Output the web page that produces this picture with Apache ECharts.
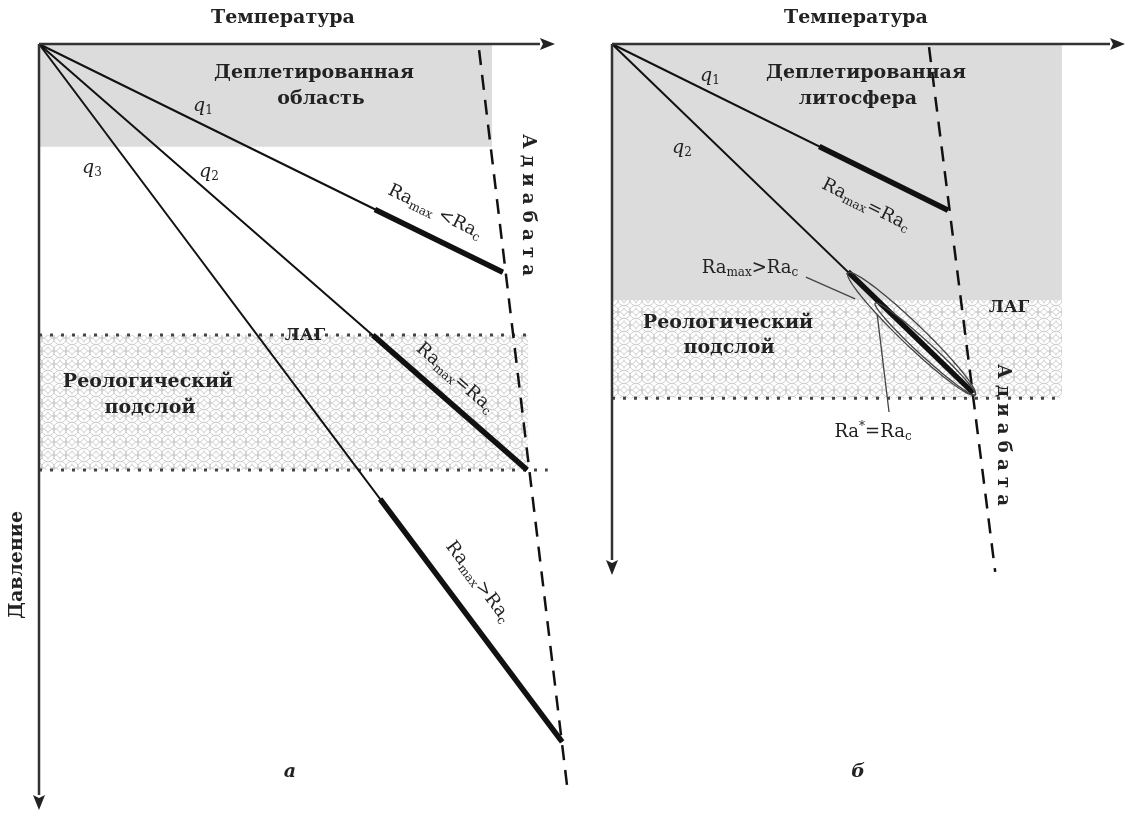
<!DOCTYPE html>
<html>
<head>
<meta charset="utf-8">
<script src="https://cdn.jsdelivr.net/npm/echarts@6/dist/echarts.min.js"></script>
<style>
  html, body { margin: 0; background: #fff; }
  #chart { width: 1127px; height: 818px; }
</style>
</head>
<body>
<div id="chart"></div>
<script>
// units: temperature 0..100 along the arrow, pressure 0..100 down the arrow

// panel a
var geothermEndA = [[89.9, 29.8], [94.6, 55.6], [101.4, 91.1]];   // q1, q2, q3 meet the adiabat
var thickStartA = [[65.1, 21.6], [64.7, 38.0], [66.1, 59.4]];
var adiabatA = [[85.3, 0.8], [102.5, 97.7]];
var depletedA = [0, 0, 87.8, 13.4];
var rheoA = [0, 38.0, 94.8, 55.6];
var lagLineA = [[0, 38.0], [94.4, 38.0]];
var rheoBottomA = [[0, 55.6], [98.6, 55.6]];

// panel b
var geothermEndB = [[65.5, 31.3], [70.4, 65.7]];                  // q1, q2
var thickStartB = [[40.4, 19.3], [46.0, 42.9]];
var adiabatB = [[61.8, 0.6], [74.7, 99.4]];
var depletedB = [0, 0, 87.7, 48.2];
var rheoB = [0, 48.2, 87.7, 66.7];
var rheoBottomB = [[0, 66.7], [87.7, 66.7]];
var envelopesB = [[46.0, 43.1, 70.8, 66.1], [51.3, 48.8, 70.8, 66.1]];
var leaderMaxB = [[37.8, 43.9], [47.4, 48.0]];
var leaderStarB = [[54.0, 69.3], [51.7, 51.0]];

// the two axis arrows of each panel: temperature, pressure
var axesArrows = [[0, 0, 100, 0], [0, 0, 0, 100]];

var chart = echarts.init(document.getElementById('chart'));

function makeHatch() {
  var c = document.createElement('canvas');
  c.width = 12;
  c.height = 13;
  var ctx = c.getContext('2d');
  ctx.fillStyle = '#fff';
  ctx.fillRect(0, 0, 12, 13);
  ctx.strokeStyle = '#cdcdcd';
  ctx.lineWidth = 1;
  [[0, 0], [12, 0], [0, 13], [12, 13], [6, 6.5]].forEach(function (p) {
    ctx.beginPath();
    ctx.arc(p[0], p[1], 6.6, 0, Math.PI * 2);
    ctx.stroke();
  });
  return c;
}
var hatch = { image: makeHatch(), repeat: 'repeat' };

function rectSeries(idx, box, fill) {
  return {
    type: 'custom',
    xAxisIndex: idx,
    yAxisIndex: idx,
    silent: true,
    clip: false,
    z: 1,
    dimensions: ['x0', 'y0', 'x1', 'y1'],
    encode: { x: [0, 2], y: [1, 3] },
    data: [box],
    renderItem: function (params, api) {
      var p0 = api.coord([api.value(0), api.value(1)]);
      var p1 = api.coord([api.value(2), api.value(3)]);
      return {
        type: 'rect',
        shape: { x: p0[0], y: p0[1], width: p1[0] - p0[0], height: p1[1] - p0[1] },
        style: { fill: fill }
      };
    }
  };
}

function arrowSeries(idx) {
  return {
    type: 'custom',
    xAxisIndex: idx,
    yAxisIndex: idx,
    silent: true,
    clip: false,
    z: 6,
    dimensions: ['x0', 'y0', 'x1', 'y1'],
    encode: { x: [0, 2], y: [1, 3] },
    data: axesArrows,
    renderItem: function (params, api) {
      var p0 = api.coord([api.value(0), api.value(1)]);
      var p1 = api.coord([api.value(2), api.value(3)]);
      var th = Math.atan2(p1[1] - p0[1], p1[0] - p0[0]);
      var len = 15, half = 6;
      var bx = p1[0] - len * Math.cos(th), by = p1[1] - len * Math.sin(th);
      return {
        type: 'group',
        children: [
          { type: 'line', shape: { x1: p0[0], y1: p0[1], x2: bx, y2: by },
            style: { stroke: '#333', lineWidth: 2.5 } },
          { type: 'polygon', shape: { points: [
              p1,
              [bx - half * Math.sin(th), by + half * Math.cos(th)],
              [bx + 3 * Math.cos(th), by + 3 * Math.sin(th)],
              [bx + half * Math.sin(th), by - half * Math.cos(th)]
            ] }, style: { fill: '#222' } }
        ]
      };
    }
  };
}

function seg(idx, pts, width, dash, color, z) {
  return {
    type: 'line',
    xAxisIndex: idx,
    yAxisIndex: idx,
    data: pts,
    symbol: 'none',
    silent: true,
    clip: false,
    z: z || 3,
    lineStyle: { color: color || '#111', width: width, type: dash || 'solid', cap: 'butt' }
  };
}

// thin ellipses around the unstable part of q2 (panel b)
function envelopeSeries(idx, data) {
  return {
    type: 'custom',
    xAxisIndex: idx,
    yAxisIndex: idx,
    silent: true,
    clip: false,
    z: 4,
    dimensions: ['x0', 'y0', 'x1', 'y1'],
    encode: { x: [0, 2], y: [1, 3] },
    data: data,
    renderItem: function (params, api) {
      var p0 = api.coord([api.value(0), api.value(1)]);
      var p1 = api.coord([api.value(2), api.value(3)]);
      var cx = (p0[0] + p1[0]) / 2, cy = (p0[1] + p1[1]) / 2;
      var a = Math.hypot(p1[0] - p0[0], p1[1] - p0[1]) / 2;
      var b = params.dataIndex === 0 ? 11 : 7;
      var th = Math.atan2(p1[1] - p0[1], p1[0] - p0[0]);
      var pts = [];
      for (var i = 0; i < 72; i++) {
        var t = i / 72 * Math.PI * 2;
        var ex = a * Math.cos(t), ey = b * Math.sin(t);
        pts.push([cx + ex * Math.cos(th) - ey * Math.sin(th), cy + ex * Math.sin(th) + ey * Math.cos(th)]);
      }
      return { type: 'polygon', shape: { points: pts }, style: { fill: 'none', stroke: '#444', lineWidth: 1.3 } };
    }
  };
}

function axisPair(idx, xmax, ymax) {
  var hidden = { show: false };
  return {
    x: { gridIndex: idx, type: 'value', min: 0, max: xmax, position: 'top', axisLine: hidden,
         axisTick: hidden, axisLabel: hidden, splitLine: hidden },
    y: { gridIndex: idx, type: 'value', min: 0, max: ymax, inverse: true, axisLine: hidden,
         axisTick: hidden, axisLabel: hidden, splitLine: hidden }
  };
}
var axA = axisPair(0, 104, 100);
var axB = axisPair(1, 100, 100);

var series = [];
series.push(rectSeries(0, depletedA, '#dcdcdc'));
series.push(rectSeries(0, rheoA, hatch));
series.push(seg(0, lagLineA, 3, [3, 8], '#444', 2));
series.push(seg(0, rheoBottomA, 3, [3, 8], '#444', 2));
geothermEndA.forEach(function (end, i) {
  series.push(seg(0, [[0, 0], end], 2));
  series.push(seg(0, [thickStartA[i], end], 5.5));
});
series.push(seg(0, adiabatA, 2.5, [15, 10]));
series.push(arrowSeries(0));

series.push(rectSeries(1, depletedB, '#dcdcdc'));
series.push(rectSeries(1, rheoB, hatch));
series.push(seg(1, rheoBottomB, 3, [3, 8], '#444', 2));
geothermEndB.forEach(function (end, i) {
  series.push(seg(1, [[0, 0], end], 2));
  series.push(seg(1, [thickStartB[i], end], 5.5));
});
series.push(envelopeSeries(1, envelopesB));
series.push(seg(1, leaderMaxB, 1.3, 'solid', '#444'));
series.push(seg(1, leaderStarB, 1.3, 'solid', '#444'));
series.push(seg(1, adiabatB, 2.5, [15, 10]));
series.push(arrowSeries(1));

var SERIF = '"DejaVu Serif", "Liberation Serif", serif';
var bold = 'bold 19px ' + SERIF;
var raRich = {
  n: { fontFamily: SERIF, fontSize: 18, fill: '#222', lineHeight: 22 },
  s: { fontFamily: SERIF, fontSize: 12, fill: '#222', lineHeight: 10, verticalAlign: 'bottom' },
  u: { fontFamily: SERIF, fontSize: 12, fill: '#222', lineHeight: 10, verticalAlign: 'top' }
};
var qRich = {
  n: { fontFamily: SERIF, fontSize: 19, fontStyle: 'italic', fill: '#222', lineHeight: 22 },
  s: { fontFamily: SERIF, fontSize: 12, fill: '#222', lineHeight: 10, verticalAlign: 'bottom' }
};
function label(x, y, text, font, rot) {
  return { type: 'text', x: x, y: y, rotation: (rot || 0) * Math.PI / 180, silent: true, z: 20,
    style: { text: text, font: font || bold, fill: '#222', align: 'center', verticalAlign: 'middle' } };
}
function rich(x, y, text, r, rot) {
  return { type: 'text', x: x, y: y, rotation: (rot || 0) * Math.PI / 180, silent: true, z: 20,
    style: { text: text, rich: r, align: 'center', verticalAlign: 'middle' } };
}

var texts = [
  label(283, 18, 'Температура'),
  label(314, 73, 'Деплетированная'),
  label(321, 99, 'область'),
  rich(203, 106, '{n|q}{s|1}', qRich),
  rich(92, 168, '{n|q}{s|3}', qRich),
  rich(209, 172, '{n|q}{s|2}', qRich),
  rich(435, 212, '{n|Ra}{s|max}{n| <Ra}{s|c}', raRich, -26.1),
  label(305, 336, 'ЛАГ', 'bold 17px ' + SERIF),
  label(148, 382, 'Реологический'),
  label(150, 408, 'подслой'),
  rich(455, 378, '{n|Ra}{s|max}{n|=Ra}{s|c}', raRich, -41.1),
  rich(478, 582, '{n|Ra}{s|max}{n|>Ra}{s|c}', raRich, -53.2),
  label(528, 205, 'А д и а б а т а', 'bold 18px ' + SERIF, -90),
  label(17, 565, 'Давление', bold, 90),
  label(290, 772, 'а', 'italic bold 19px ' + SERIF),

  label(856, 18, 'Температура'),
  label(866, 73, 'Деплетированная'),
  label(858, 99, 'литосфера'),
  rich(710, 76, '{n|q}{s|1}', qRich),
  rich(682, 148, '{n|q}{s|2}', qRich),
  rich(866, 205, '{n|Ra}{s|max}{n|=Ra}{s|c}', raRich, -26.5),
  rich(750, 268, '{n|Ra}{s|max}{n|>Ra}{s|c}', raRich),
  label(1009, 308, 'ЛАГ', 'bold 17px ' + SERIF),
  label(728, 323, 'Реологический'),
  label(729, 348, 'подслой'),
  rich(873, 432, '{n|Ra}{u|*}{n|=Ra}{s|c}', raRich),
  label(1003, 435, 'А д и а б а т а', 'bold 18px ' + SERIF, -90),
  label(858, 772, 'б', 'italic bold 19px ' + SERIF)
];

chart.setOption({
  animation: false,
  backgroundColor: '#fff',
  grid: [
    { left: 39, top: 44, width: 536.6, height: 766 },
    { left: 612, top: 44, width: 513, height: 531 }
  ],
  xAxis: [axA.x, axB.x],
  yAxis: [axA.y, axB.y],
  series: series,
  graphic: texts
});
</script>
</body>
</html>
